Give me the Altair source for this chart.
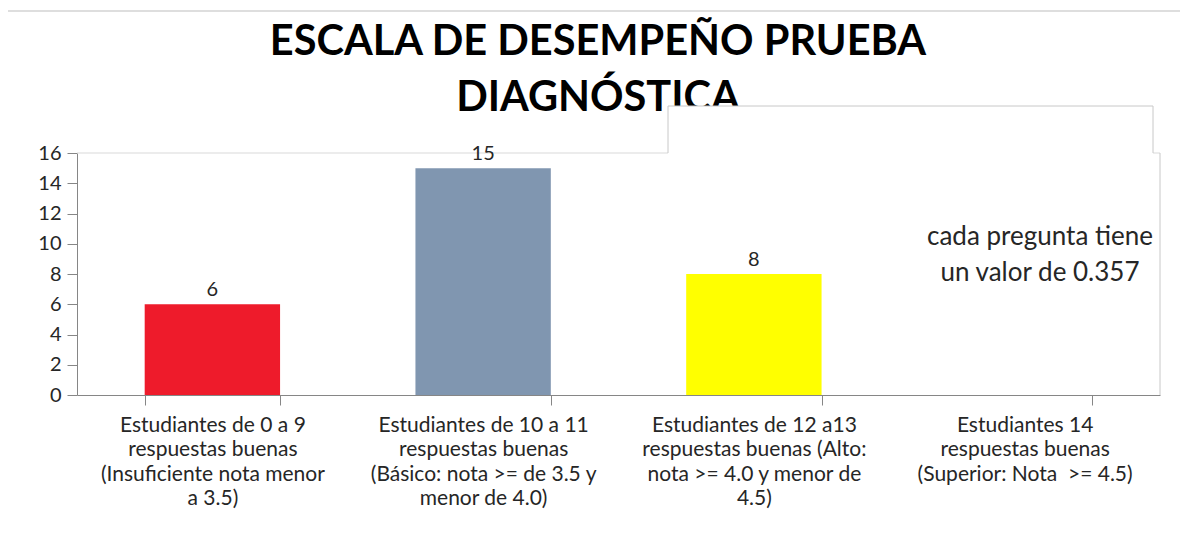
import altair as alt
import pandas as pd

categories = [
    "Estudiantes de 0 a 9|respuestas buenas|(Insuficiente nota menor|a 3.5)",
    "Estudiantes de 10 a 11|respuestas buenas|(Básico: nota >= de 3.5 y|menor de 4.0)",
    "Estudiantes de 12 a13|respuestas buenas (Alto:|nota >= 4.0 y menor de|4.5)",
    "Estudiantes 14|respuestas buenas|(Superior: Nota\u00a0 >= 4.5)",
]
values = [6, 15, 8, 0]
colors = ["#EE1B2B", "#8096B0", "#FFFF00", "#4472C4"]
y_ticks = [0, 2, 4, 6, 8, 10, 12, 14, 16]
y_max = [16]
title_lines = ["ESCALA DE DESEMPEÑO PRUEBA", "DIAGNÓSTICA"]
note_lines = ["cada pregunta tiene", "un valor de 0.357"]

FONT = "Lato"

df = pd.DataFrame({"cat": categories, "val": values, "color": colors})
df["lbl"] = [str(v) if v > 0 else "" for v in values]
grid_df = pd.DataFrame({"val": y_max})
one = pd.DataFrame({"k": [0]})

xenc = alt.X(
    "cat:N",
    sort=None,
    scale=alt.Scale(paddingInner=0.5, paddingOuter=0.25),
    axis=alt.Axis(
        title=None,
        labelAngle=0,
        labelExpr="split(datum.label, '|')",
        labelFont=FONT,
        labelFontSize=21,
        labelColor="#262626",
        labelLineHeight=24.5,
        labelPadding=9,
        labelLimit=300,
        tickBand="extent",
        tickSize=10,
        tickColor="#868686",
        domainColor="#868686",
        grid=False,
    ),
)
yscale = alt.Scale(domain=[0, 16], nice=False)
yaxis = alt.Axis(
    title=None,
    values=y_ticks,
    tickCount=20,
    grid=False,
    labelOverlap=False,
    labelFont=FONT,
    labelFontSize=20,
    labelColor="#262626",
    labelPadding=6,
    tickSize=10,
    tickColor="#868686",
    domainColor="#868686",
)
yenc = alt.Y("val:Q", scale=yscale, axis=yaxis)

frame = alt.Chart(one).mark_rect(fillOpacity=0, stroke="#bdbdbd", strokeWidth=1).encode(
    x=alt.value(-72), x2=alt.value(1108), y=alt.value(-142), y2=alt.value(430)
)

title = alt.Chart(one).mark_text(
    font=FONT, fontSize=41.5, fontWeight="bold", color="#000000",
    lineHeight=56, baseline="alphabetic", align="center",
).encode(x=alt.value(521), y=alt.value(-98), text=alt.value(title_lines))

grid16 = alt.Chart(grid_df).mark_rule(color="#d9d9d9", strokeWidth=1).encode(
    y=yenc, x=alt.value(0), x2=alt.value(1083)
)

box = alt.Chart(one).mark_rect(fill="white", strokeWidth=0).encode(
    x=alt.value(591), x2=alt.value(1076), y=alt.value(-47), y2=alt.value(240)
)
box_top = alt.Chart(one).mark_rule(color="#c8c8c8").encode(
    x=alt.value(591), x2=alt.value(1076), y=alt.value(-47)
)
box_left = alt.Chart(one).mark_rule(color="#c8c8c8").encode(
    x=alt.value(591), y=alt.value(-47), y2=alt.value(0)
)
box_right = alt.Chart(one).mark_rule(color="#c8c8c8").encode(
    x=alt.value(1076), y=alt.value(-47), y2=alt.value(0)
)
plot_right = alt.Chart(one).mark_rule(color="#c8c8c8").encode(
    x=alt.value(1083), y=alt.value(0), y2=alt.value(242)
)

bars = alt.Chart(df).mark_bar().encode(
    x=xenc,
    y=yenc,
    color=alt.Color("color:N", scale=None, legend=None),
)

labels = alt.Chart(df).mark_text(
    baseline="bottom", dy=-4, font=FONT, fontSize=20, color="#262626"
).encode(x=xenc, y=yenc, text="lbl:N")

note = alt.Chart(one).mark_text(
    font=FONT, fontSize=26, color="#262626", lineHeight=36, baseline="middle", align="center"
).encode(x=alt.value(963), y=alt.value(84), text=alt.value(note_lines))

chart = alt.layer(
    frame, title, grid16, box, box_top, box_left, box_right, plot_right, bars, labels, note
).properties(
    width=1083,
    height=242,
    autosize=alt.AutoSizeParams(type="none"),
    padding={"left": 69, "top": 145, "right": 20, "bottom": 156},
).configure_view(stroke=None)

chart.save("out.html", embed_options={"renderer": "svg", "actions": False})
